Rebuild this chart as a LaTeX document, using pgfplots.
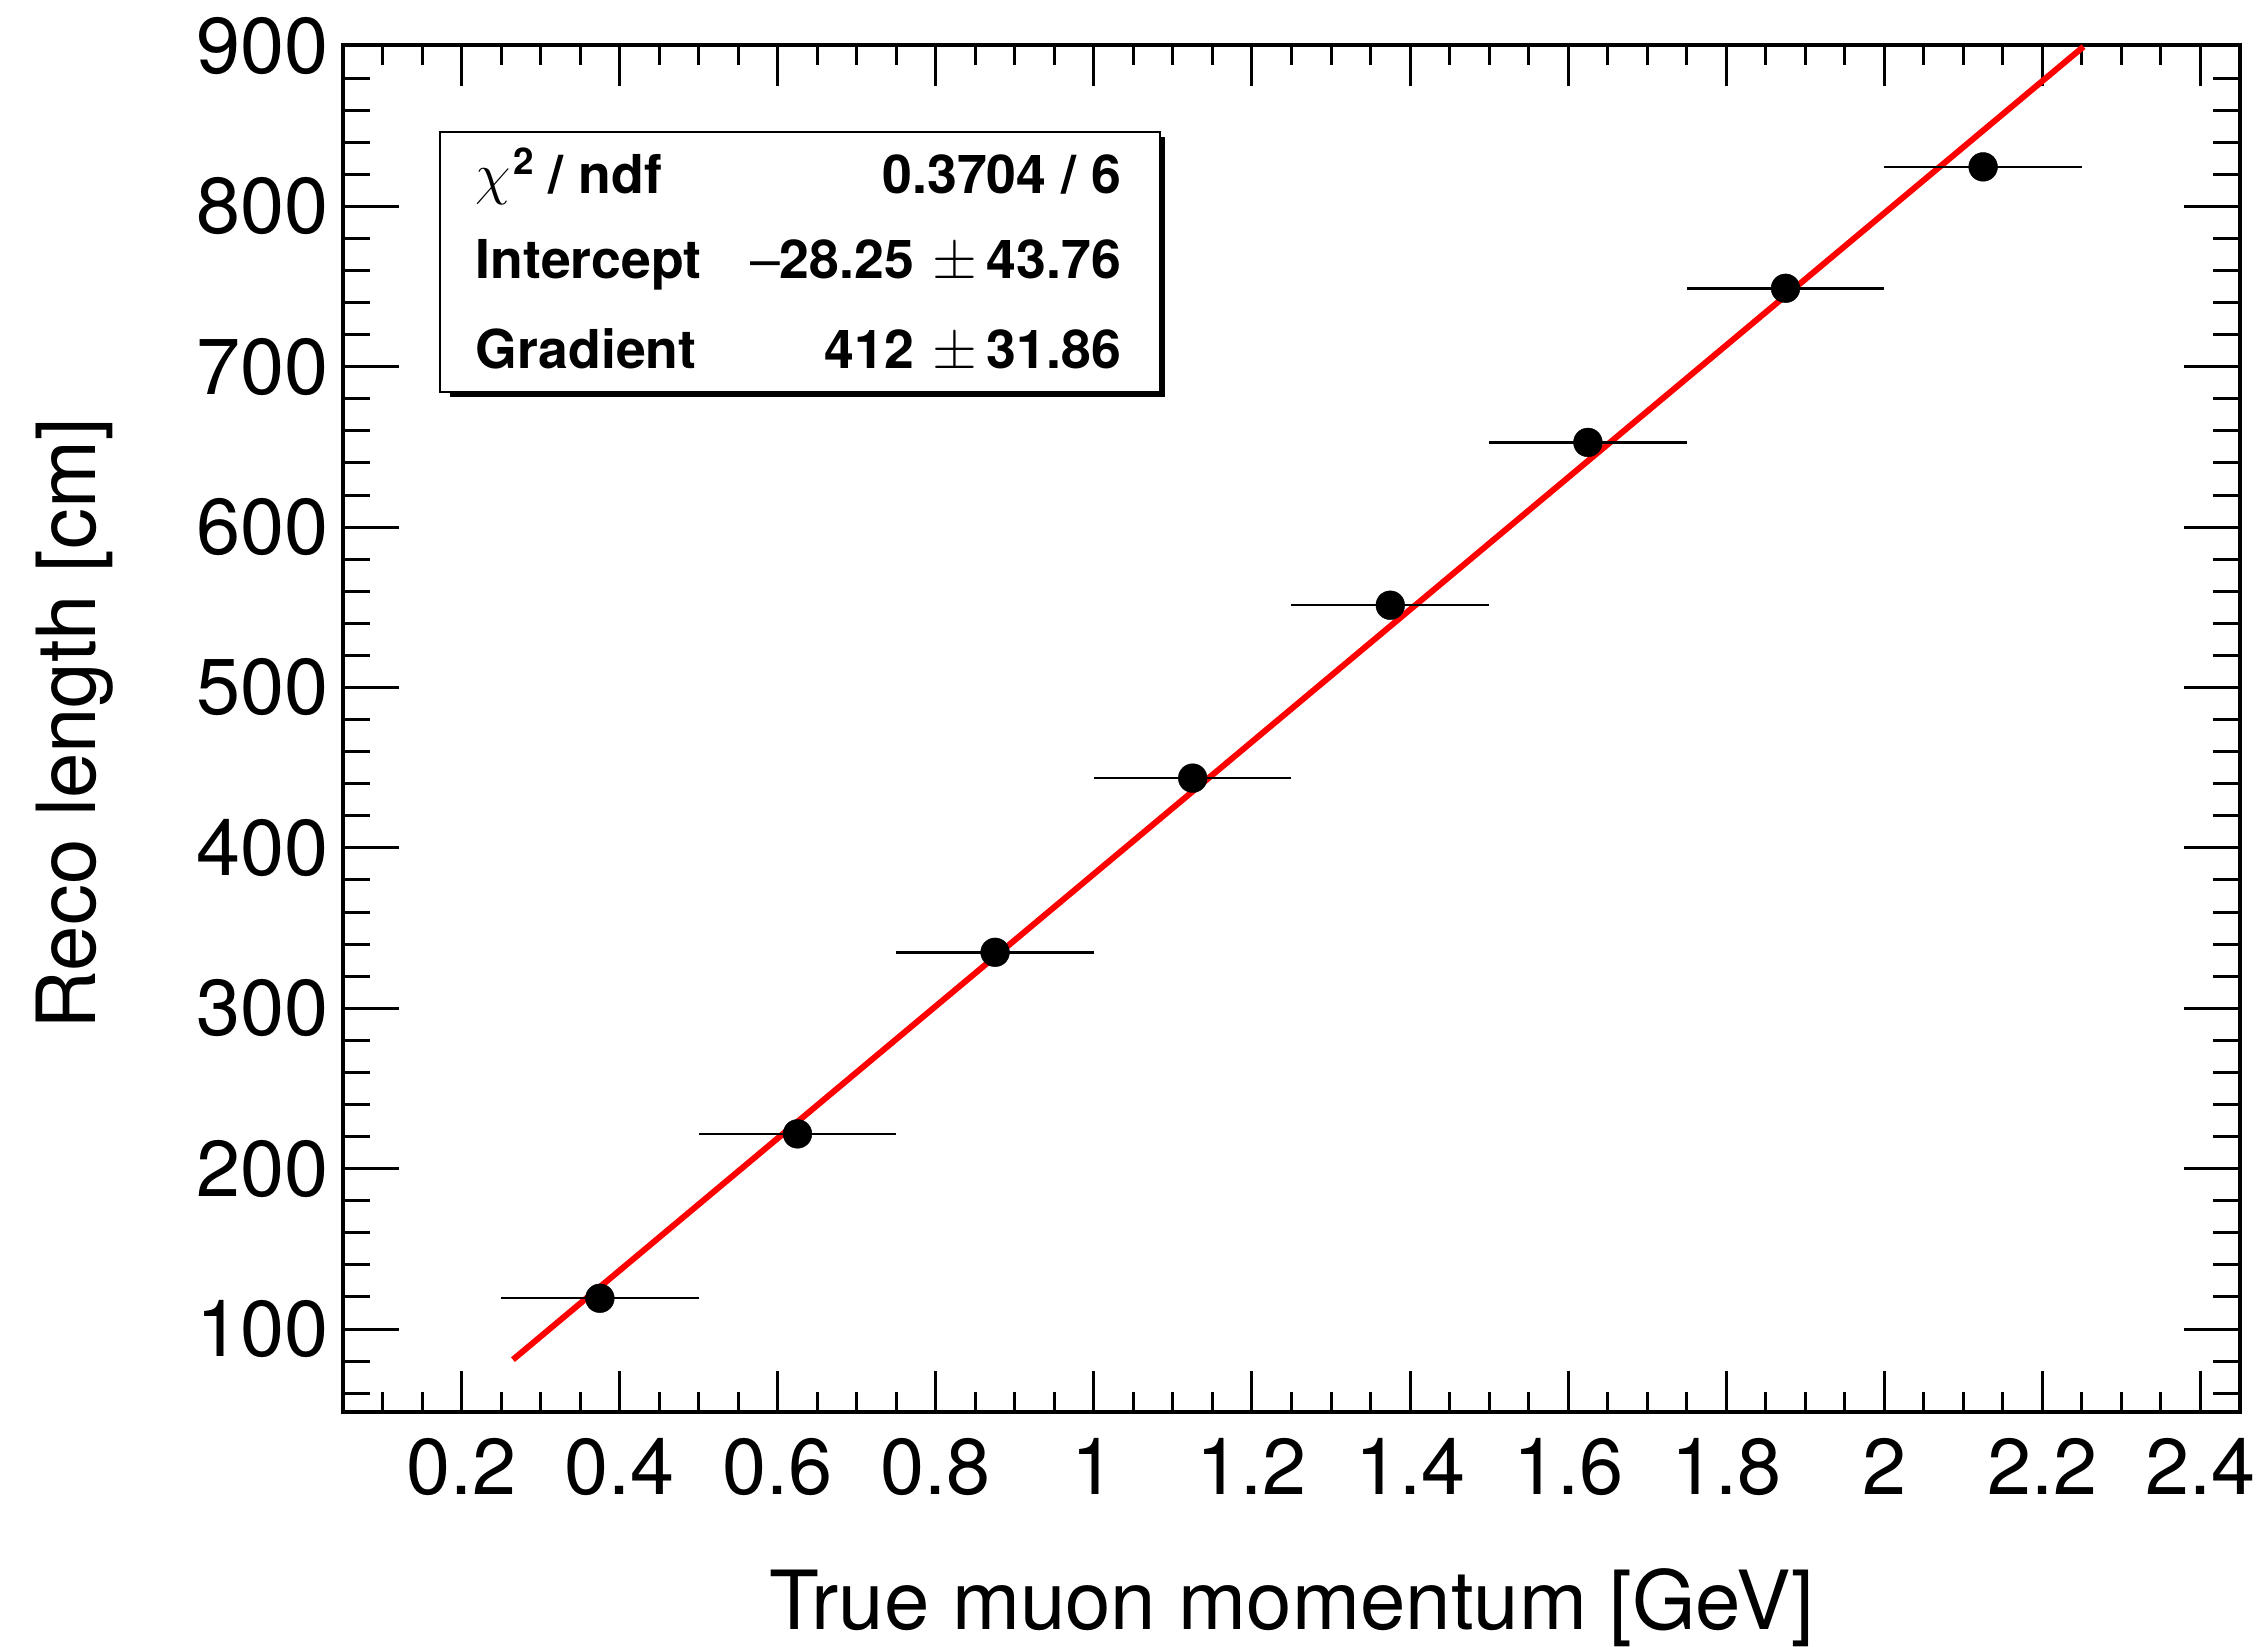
\documentclass[border=0pt]{standalone}
\usepackage{pgfplots}
\pgfplotsset{compat=1.18}
\usepackage{fontspec}
\setmainfont{TeX Gyre Heros}

\pgfplotstableread{
x      y      ex
0.375  119.2  0.125
0.625  221.7  0.125
0.875  334.9  0.125
1.125  443.5  0.125
1.375  551.3  0.125
1.625  652.8  0.125
1.875  748.9  0.125
2.125  824.6  0.125
}\datatable

\begin{document}
\begin{tikzpicture}
\useasboundingbox (-85.75pt,-58.75pt) rectangle (479pt,353pt);
\begin{axis}[
  at={(0pt,0pt)}, anchor=south west,
  scale only axis, width=474.25pt, height=341.75pt,
  xmin=0.05, xmax=2.45, ymin=48.3, ymax=900.6,
  xtick={0.2,0.4,0.6,0.8,1,1.2,1.4,1.6,1.8,2,2.2,2.4},
  ytick={100,200,300,400,500,600,700,800,900},
  minor xtick={0.1,0.15,0.25,0.3,0.35,0.45,0.5,0.55,0.65,0.7,0.75,0.85,0.9,0.95,1.05,1.1,1.15,1.25,1.3,1.35,1.45,1.5,1.55,1.65,1.7,1.75,1.85,1.9,1.95,2.05,2.1,2.15,2.25,2.3,2.35},
  minor ytick={60,80,120,140,160,180,220,240,260,280,320,340,360,380,420,440,460,480,520,540,560,580,620,640,660,680,720,740,760,780,820,840,860,880},
  tick align=inside,
  axis line style={line width=0.9pt},
  tick style={black, line width=0.75pt},
  xtick style={/pgfplots/major tick length=10.2pt, /pgfplots/minor tick length=5pt},
  ytick style={/pgfplots/major tick length=13.9pt, /pgfplots/minor tick length=6.8pt},
  /pgf/number format/assume math mode=true,
  xticklabel style={anchor=north, inner sep=0pt, yshift=-6.5pt, font=\fontsize{19.8}{23}\selectfont},
  yticklabel style={anchor=east, inner sep=0pt, xshift=-3.5pt, font=\fontsize{19.8}{23}\selectfont},
  xlabel={True muon momentum [GeV]},
  ylabel={Reco length [cm]},
  xlabel style={at={(axis description cs:0.5,-0.1594)}, anchor=base, inner sep=0pt, font=\fontsize{20.4}{24}\selectfont},
  ylabel style={at={(axis description cs:-0.1302,0.5035)}, anchor=base, inner sep=0pt, font=\fontsize{20.4}{24}\selectfont},
  clip=false,
]
\addplot[red, line width=1.5pt] coordinates {(0.265,80.93) (2.252,899.57)};
\addplot[only marks, mark=*, mark size=3.6pt,
  mark options={fill=black, draw=black, line width=0.1pt},
  error bars/.cd, x dir=both, x explicit,
  error bar style={line width=0.6pt, black}, error mark=none]
  table[x=x, y=y, x error=ex] {\datatable};
\end{axis}
% statistics box
\fill[black] (26.75pt,253.75pt) rectangle (205.5pt,318.75pt);
\draw[line width=0.6pt, fill=white] (24.25pt,255pt) rectangle (204.25pt,320pt);
\begin{scope}[every node/.style={inner sep=0pt, font=\fontsize{13.4}{16}\selectfont\bfseries}]
\node[anchor=base west] at (33pt,304.7pt) {$\chi$\hspace{0.6pt}\raisebox{4.6pt}{\fontsize{9.2}{10}\selectfont\bfseries 2} / ndf};
\node[anchor=base west] at (33pt,283.4pt) {Intercept};
\node[anchor=base west] at (33pt,260.9pt) {Gradient};
\node[anchor=base east] at (194.7pt,304.7pt) {0.3704 / 6};
\node[anchor=base east] at (194.7pt,283.4pt) {{\mdseries –}28.25\hspace{4.5pt}$\pm$\hspace{2.5pt}43.76};
\node[anchor=base east] at (194.7pt,260.9pt) {412\hspace{4.5pt}$\pm$\hspace{2.5pt}31.86};
\end{scope}
\end{tikzpicture}
\end{document}
